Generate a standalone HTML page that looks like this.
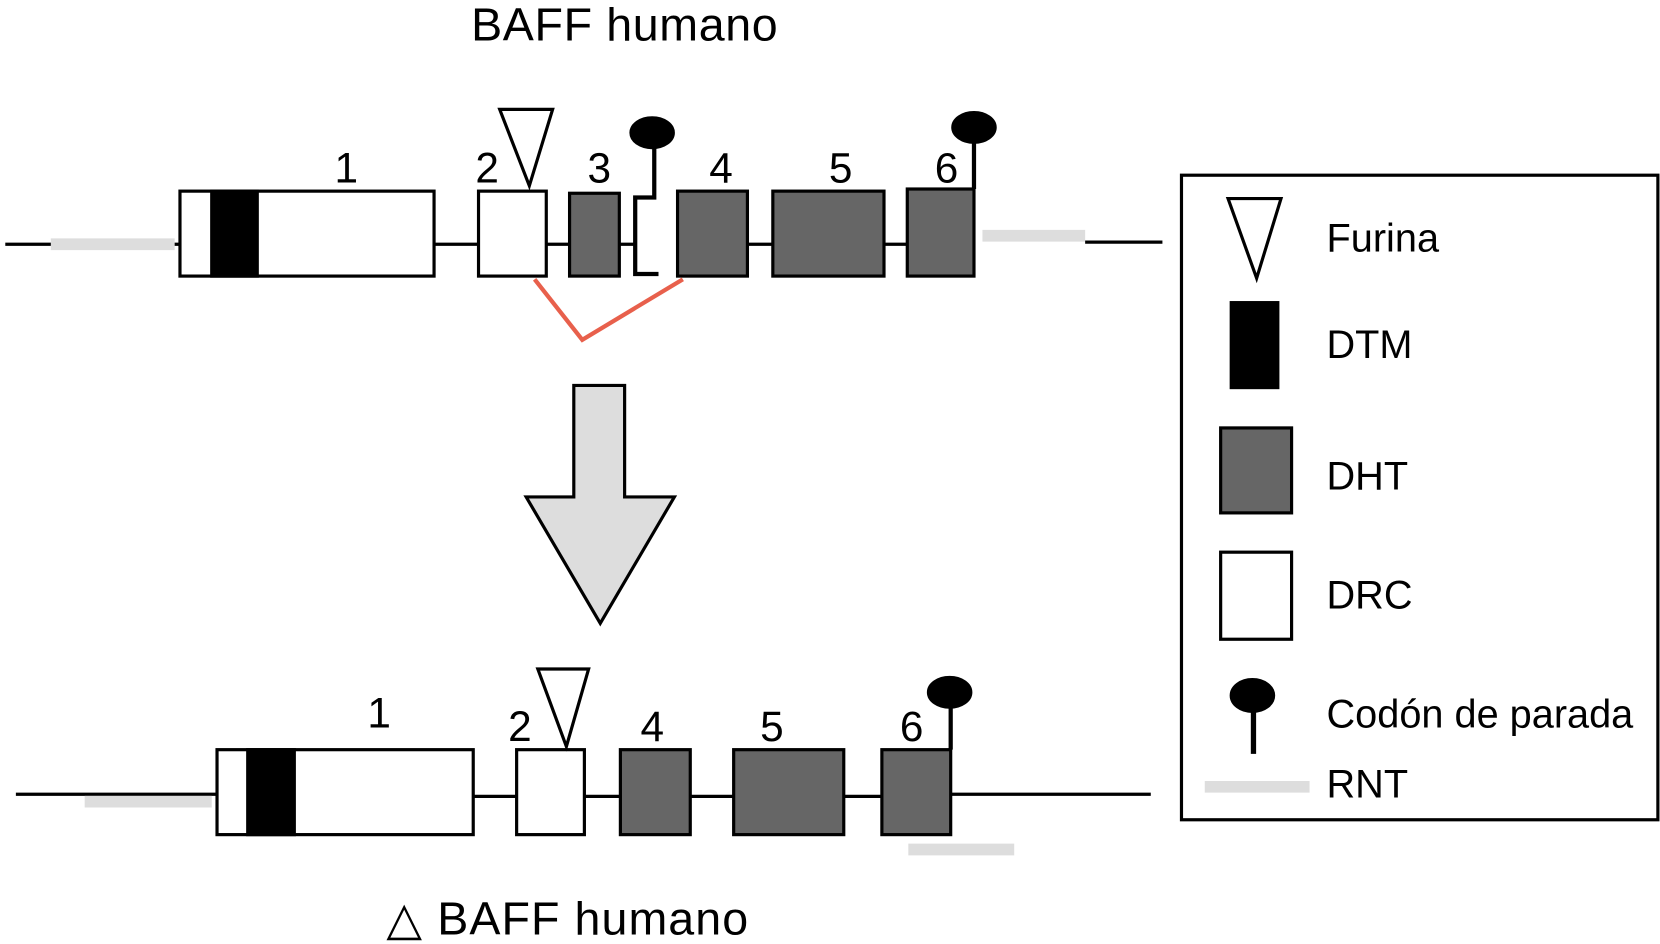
<!DOCTYPE html>
<html><head><meta charset="utf-8"><style>
html,body{margin:0;padding:0;background:#fff;}
svg{display:block;}
text{font-family:"Liberation Sans",Arial,sans-serif;fill:#000;}
</style></head><body>
<svg width="1660" height="944" viewBox="0 0 1568 889" preserveAspectRatio="none" xmlns="http://www.w3.org/2000/svg">
<g stroke="#000" stroke-width="3">
<line x1="5" y1="230" x2="170" y2="230"/>
<line x1="48" y1="230" x2="165" y2="230" stroke="#ddd" stroke-width="11"/>
<rect x="170" y="180" width="240" height="80" fill="#fff"/>
<rect x="200" y="180" width="43" height="80" fill="#000"/>
<line x1="410" y1="230" x2="452" y2="230"/>
<rect x="452" y="180" width="64" height="80" fill="#fff"/>
<polygon points="472,103 522,103 500,175" fill="#fff"/>
<line x1="516" y1="230" x2="538" y2="230"/>
<rect x="538" y="182" width="47" height="78" fill="#666"/>
<line x1="585" y1="230" x2="600" y2="230"/>
<polyline points="618,135 618,186 600,186 600,258 622,258" fill="none" stroke-width="4"/>
<ellipse cx="616" cy="125" rx="20" ry="14" fill="#000"/>
<rect x="640" y="180" width="66" height="80" fill="#666"/>
<line x1="706" y1="230" x2="730" y2="230"/>
<rect x="730" y="180" width="105" height="80" fill="#666"/>
<line x1="835" y1="230" x2="857" y2="230"/>
<rect x="857" y="178" width="63" height="82" fill="#666"/>
<line x1="920" y1="178" x2="920" y2="128" stroke-width="4"/>
<ellipse cx="920" cy="120" rx="20" ry="14" fill="#000"/>
<line x1="928" y1="222" x2="1025" y2="222" stroke="#ddd" stroke-width="11"/>
<line x1="1025" y1="228" x2="1098" y2="228"/>
<polyline points="505,263 550,320 645,263" fill="none" stroke="#e8604c" stroke-width="4"/>
<polygon points="542,363 590,363 590,468 637,468 567,587 497,468 542,468" fill="#ddd"/>
<line x1="15" y1="748" x2="205" y2="748"/>
<line x1="80" y1="755" x2="200" y2="755" stroke="#ddd" stroke-width="11"/>
<rect x="205" y="706" width="242" height="80" fill="#fff"/>
<rect x="234" y="706" width="44" height="80" fill="#000"/>
<line x1="447" y1="750" x2="488" y2="750"/>
<rect x="488" y="706" width="64" height="80" fill="#fff"/>
<polygon points="508,630 556,630 535,703" fill="#fff"/>
<line x1="552" y1="750" x2="586" y2="750"/>
<rect x="586" y="706" width="66" height="80" fill="#666"/>
<line x1="652" y1="750" x2="693" y2="750"/>
<rect x="693" y="706" width="104" height="80" fill="#666"/>
<line x1="797" y1="750" x2="833" y2="750"/>
<rect x="833" y="706" width="65" height="80" fill="#666"/>
<line x1="898" y1="748" x2="1087" y2="748"/>
<line x1="898" y1="706" x2="898" y2="660" stroke-width="4"/>
<ellipse cx="897" cy="652" rx="20" ry="14" fill="#000"/>
<line x1="858" y1="800" x2="958" y2="800" stroke="#ddd" stroke-width="11"/>
<rect x="1116" y="165" width="450" height="607" fill="#fff"/>
<polygon points="1160,187 1210,187 1187,262" fill="#fff"/>
<rect x="1163" y="285" width="44" height="80" fill="#000"/>
<rect x="1153" y="403" width="67" height="80" fill="#666"/>
<rect x="1153" y="520" width="67" height="82" fill="#fff"/>
<line x1="1184" y1="660" x2="1184" y2="710" stroke-width="5"/>
<ellipse cx="1183" cy="655" rx="20" ry="15" fill="#000"/>
<line x1="1138" y1="741" x2="1237" y2="741" stroke="#ddd" stroke-width="11"/>
</g>
<g font-size="40">
<text x="445" y="38" font-size="44" letter-spacing="0.6">BAFF humano</text>
<text x="316" y="172">1</text>
<text x="449" y="172">2</text>
<text x="555" y="172">3</text>
<text x="670" y="172">4</text>
<text x="783" y="172">5</text>
<text x="883" y="172">6</text>
<text x="347" y="685">1</text>
<text x="480" y="698">2</text>
<text x="605" y="698">4</text>
<text x="718" y="698">5</text>
<text x="850" y="698">6</text>
<text x="365" y="880" font-size="44" letter-spacing="1">△ BAFF humano</text>
<text x="1253" y="237" font-size="37.5">Furina</text>
<text x="1253" y="337" font-size="37.5">DTM</text>
<text x="1253" y="461" font-size="37.5">DHT</text>
<text x="1253" y="573" font-size="37.5">DRC</text>
<text x="1253" y="685" font-size="37.5">Codón de parada</text>
<text x="1253" y="751" font-size="37.5">RNT</text>
</g>
</svg>
</body></html>
